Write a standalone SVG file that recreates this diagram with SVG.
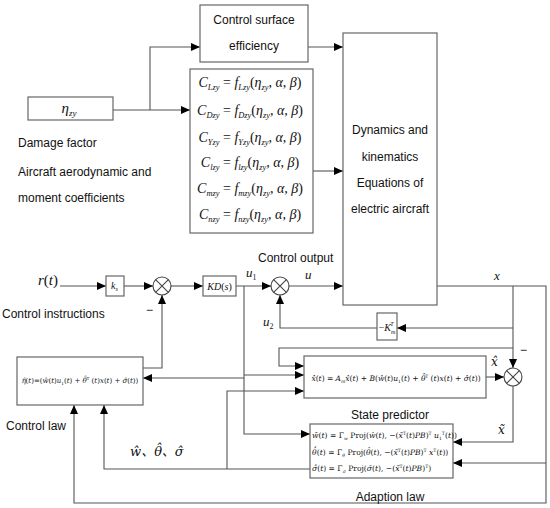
<svg xmlns="http://www.w3.org/2000/svg" width="550" height="508" viewBox="0 0 550 508">
<style>
.box{fill:#fff;stroke:#666;stroke-width:1.2}
.ln{fill:none;stroke:#555;stroke-width:1.1}
.lbl{font-family:"Liberation Sans",Arial,sans-serif;font-size:12px;font-style:normal;fill:#111}
.m{font-family:"Liberation Serif","Times New Roman",serif;font-style:italic;fill:#111}
.d{font-family:"DejaVu Serif",serif;font-style:italic;fill:#111}
.up{font-style:normal}
.sb{font-size:60%}
.cj{font-family:"DejaVu Serif","Noto Sans CJK SC",serif;font-style:italic;fill:#111}
</style>
<defs>
<marker id="ar" markerUnits="userSpaceOnUse" markerWidth="10" markerHeight="9" refX="9" refY="4" orient="auto">
<path d="M0,0 L9,4 L0,8 z" fill="#000"/>
</marker>
</defs>
<rect width="550" height="508" fill="#fff"/>

<g id="connectors" class="ln" marker-end="url(#ar)">
<path d="M113,110 H190"/>
<path d="M150,110 V47 H200"/>
<path d="M308,47 H343"/>
<path d="M313,171 H343"/>
<path d="M60,286 H106"/>
<path d="M124,286 H153"/>
<path d="M171,286 H203"/>
<path d="M236,286 H271"/>
<path d="M289,286 H343"/>
<path d="M143,368 H162 V295"/>
<path d="M244,286 V434 H310"/>
<path d="M244,378 H143"/>
<path d="M244,375 H304"/>
<path d="M437,286 H546 V503 H74 V405"/>
<path d="M513,286 V368"/>
<path d="M513,328 H397"/>
<path d="M377,328 H280 V295"/>
<path d="M513,348 H279 V366 H304"/>
<path d="M486,377 H504"/>
<path d="M513,386 V442 H453"/>
<path d="M546,463 H453"/>
<path d="M310,469 H104 V405"/>
<path d="M227,469 V391 H304"/>
</g>

<g id="damage">
<rect class="box" x="28" y="97" width="85" height="23"/>
<text class="m" x="69" y="113" font-size="15" text-anchor="middle">η<tspan class="sb" dy="3">zy</tspan></text>
<text class="lbl" x="18" y="147">Damage factor</text>
</g>

<g id="cse">
<rect class="box" x="200" y="5" width="108" height="57"/>
<text class="lbl" x="254" y="24" text-anchor="middle">Control surface</text>
<text class="lbl" x="254" y="50" text-anchor="middle">efficiency</text>
</g>

<g id="coeffs">
<rect class="box" x="190" y="69" width="123" height="164"/>
<g class="m" font-size="14" text-anchor="middle">
<text x="250" y="87">C<tspan class="sb" dy="3">Lzy</tspan><tspan dy="-3" class="up"> = </tspan>f<tspan class="sb" dy="3">Lzy</tspan><tspan dy="-3" class="up">(</tspan>η<tspan class="sb" dy="3">zy</tspan><tspan dy="-3">, α, β</tspan><tspan class="up">)</tspan></text>
<text x="250" y="115">C<tspan class="sb" dy="3">Dzy</tspan><tspan dy="-3" class="up"> = </tspan>f<tspan class="sb" dy="3">Dzy</tspan><tspan dy="-3" class="up">(</tspan>η<tspan class="sb" dy="3">zy</tspan><tspan dy="-3">, α, β</tspan><tspan class="up">)</tspan></text>
<text x="250" y="142">C<tspan class="sb" dy="3">Yzy</tspan><tspan dy="-3" class="up"> = </tspan>f<tspan class="sb" dy="3">Yzy</tspan><tspan dy="-3" class="up">(</tspan>η<tspan class="sb" dy="3">zy</tspan><tspan dy="-3">, α, β</tspan><tspan class="up">)</tspan></text>
<text x="250" y="167">C<tspan class="sb" dy="3">lzy</tspan><tspan dy="-3" class="up"> = </tspan>f<tspan class="sb" dy="3">lzy</tspan><tspan dy="-3" class="up">(</tspan>η<tspan class="sb" dy="3">zy</tspan><tspan dy="-3">, α, β</tspan><tspan class="up">)</tspan></text>
<text x="250" y="193">C<tspan class="sb" dy="3">mzy</tspan><tspan dy="-3" class="up"> = </tspan>f<tspan class="sb" dy="3">mzy</tspan><tspan dy="-3" class="up">(</tspan>η<tspan class="sb" dy="3">zy</tspan><tspan dy="-3">, α, β</tspan><tspan class="up">)</tspan></text>
<text x="250" y="219">C<tspan class="sb" dy="3">nzy</tspan><tspan dy="-3" class="up"> = </tspan>f<tspan class="sb" dy="3">nzy</tspan><tspan dy="-3" class="up">(</tspan>η<tspan class="sb" dy="3">zy</tspan><tspan dy="-3">, α, β</tspan><tspan class="up">)</tspan></text>
</g>
<text class="lbl" x="18" y="176">Aircraft aerodynamic and</text>
<text class="lbl" x="18" y="202">moment coefficients</text>
</g>

<g id="dynamics">
<rect class="box" x="343" y="33" width="94" height="272"/>
<text class="lbl" x="390" y="134" text-anchor="middle">Dynamics and</text>
<text class="lbl" x="390" y="161" text-anchor="middle">kinematics</text>
<text class="lbl" x="390" y="187" text-anchor="middle">Equations of</text>
<text class="lbl" x="390" y="213" text-anchor="middle">electric aircraft</text>
</g>

<g id="input">
<text class="m" x="38" y="285" font-size="15">r<tspan class="up">(</tspan>t<tspan class="up">)</tspan></text>
<text class="lbl" x="2" y="318">Control instructions</text>
</g>

<g id="ks">
<rect class="box" x="106" y="276" width="18" height="20"/>
<text class="m" x="111" y="289" font-size="10">k<tspan class="sb" dy="2">s</tspan></text>
</g>

<g id="sum1">
<circle cx="162" cy="286" r="9" fill="#fff" stroke="#444" stroke-width="1.1"/>
<path d="M155.6,279.6 L168.4,292.4 M168.4,279.6 L155.6,292.4" stroke="#444" stroke-width="1.1"/>
<text class="lbl" x="146" y="314">−</text>
</g>

<g id="kd">
<rect class="box" x="203" y="276" width="33" height="20"/>
<text class="m" x="219.5" y="290" font-size="10" text-anchor="middle">KD<tspan class="up">(</tspan>s<tspan class="up">)</tspan></text>
</g>

<g id="sum2">
<circle cx="280" cy="286" r="9" fill="#fff" stroke="#444" stroke-width="1.1"/>
<path d="M273.6,279.6 L286.4,292.4 M286.4,279.6 L273.6,292.4" stroke="#444" stroke-width="1.1"/>
</g>

<g id="signals">
<text class="lbl" x="258" y="262">Control output</text>
<text class="m" font-size="13" x="246" y="277">u<tspan class="sb up" dy="3">1</tspan></text>
<text class="m" font-size="13" x="305" y="279">u</text>
<text class="m" font-size="13" x="263" y="326">u<tspan class="sb up" dy="3">2</tspan></text>
<text class="m" font-size="13" x="494" y="280">x</text>
<text class="d" font-size="12" x="491" y="366">x&#x302;</text>
<text class="d" font-size="12" x="498" y="434">x&#x303;</text>
<text class="lbl" x="520" y="354">−</text>
</g>

<g id="km">
<rect class="box" x="377" y="313" width="20" height="27"/>
<text class="m" x="387" y="331" font-size="10" text-anchor="middle"><tspan class="up">−</tspan>K<tspan class="sb" dy="3">m</tspan><tspan class="sb" dx="-5" dy="-8">T</tspan></text>
</g>

<g id="controllaw">
<rect class="box" x="17" y="357" width="126" height="48"/>
<text class="d" x="80" y="383" font-size="7" text-anchor="middle">η<tspan dx="-3.8" dy="-0.5">ˆ</tspan><tspan dy="0.5" class="up">(</tspan>t<tspan class="up">)=(</tspan>ŵ<tspan class="up">(</tspan>t<tspan class="up">)</tspan>u<tspan class="sb up" dy="2">1</tspan><tspan dy="-2" class="up">(</tspan>t<tspan class="up">) + </tspan>θ<tspan dx="-3.7" dy="-2">ˆ</tspan><tspan class="sb up" dy="-1">T</tspan><tspan dy="3" class="up"> (</tspan>t<tspan class="up">)</tspan>x<tspan class="up">(</tspan>t<tspan class="up">) + </tspan>σ&#x302;<tspan class="up">(</tspan>t<tspan class="up">))</tspan></text>
<text class="lbl" x="6" y="430">Control law</text>
<text class="cj" x="130" y="456" font-size="13">ŵ、θ<tspan dx="-6.8" dy="-3.5">ˆ</tspan><tspan dy="3.5">、σ&#x302;</tspan></text>
</g>

<g id="sum3">
<circle cx="513" cy="377" r="9" fill="#fff" stroke="#444" stroke-width="1.1"/>
<path d="M506.6,370.6 L519.4,383.4 M519.4,370.6 L506.6,383.4" stroke="#444" stroke-width="1.1"/>
</g>

<g id="predictor">
<rect class="box" x="304" y="356" width="182" height="42"/>
<text class="d" x="396" y="381" font-size="7.5" text-anchor="middle">x&#x302;&#x307;<tspan class="up">(</tspan>t<tspan class="up">) = </tspan>A<tspan class="sb" dy="2">m</tspan><tspan dy="-2">x&#x302;</tspan><tspan class="up">(</tspan>t<tspan class="up">) + </tspan>B<tspan class="up">(</tspan>ŵ<tspan class="up">(</tspan>t<tspan class="up">)</tspan>u<tspan class="sb up" dy="2">1</tspan><tspan dy="-2" class="up">(</tspan>t<tspan class="up">) + </tspan>θ<tspan dx="-4" dy="-2">ˆ</tspan><tspan class="sb up" dy="-1">T</tspan><tspan dy="3" class="up"> (</tspan>t<tspan class="up">)</tspan>x<tspan class="up">(</tspan>t<tspan class="up">) + </tspan>σ&#x302;<tspan class="up">(</tspan>t<tspan class="up">))</tspan></text>
<text class="lbl" x="390" y="419" text-anchor="middle">State predictor</text>
</g>

<g id="adaptation">
<rect class="box" x="310" y="424" width="143" height="54"/>
<g class="d" font-size="7.6">
<text x="312" y="438">ŵ&#x307;<tspan class="up">(</tspan>t<tspan class="up">) = Γ</tspan><tspan class="sb" dy="2">w</tspan><tspan dy="-2" class="up"> Proj(</tspan>ŵ<tspan class="up">(</tspan>t<tspan class="up">), −(</tspan>x&#x303;<tspan class="sb up" dy="-3">T</tspan><tspan dy="3" class="up">(</tspan>t<tspan class="up">)</tspan>PB<tspan class="up">)</tspan><tspan class="sb up" dy="-3">T</tspan><tspan dy="3"> u</tspan><tspan class="sb up" dy="2">1</tspan><tspan class="sb up" dy="-5">T</tspan><tspan dy="3" class="up">(</tspan>t<tspan class="up">))</tspan></text>
<text x="312" y="455">θ<tspan dx="-4" dy="-2">ˆ</tspan><tspan dx="-3.4" dy="-1.5">˙</tspan><tspan dy="3.5" class="up">(</tspan>t<tspan class="up">) = Γ</tspan><tspan class="sb" dy="2">θ</tspan><tspan dy="-2" class="up"> Proj(</tspan>θ<tspan dx="-4" dy="-2">ˆ</tspan><tspan dy="2" class="up">(</tspan>t<tspan class="up">), −(</tspan>x&#x303;<tspan class="sb up" dy="-3">T</tspan><tspan dy="3" class="up">(</tspan>t<tspan class="up">)</tspan>PB<tspan class="up">)</tspan><tspan class="sb up" dy="-3">T</tspan><tspan dy="3"> x</tspan><tspan class="sb up" dy="-3">T</tspan><tspan dy="3" class="up">(</tspan>t<tspan class="up">))</tspan></text>
<text x="312" y="471">σ&#x302;&#x307;<tspan class="up">(</tspan>t<tspan class="up">) = Γ</tspan><tspan class="sb" dy="2">σ</tspan><tspan dy="-2" class="up"> Proj(</tspan>σ&#x302;<tspan class="up">(</tspan>t<tspan class="up">), −(</tspan>x&#x303;<tspan class="sb up" dy="-3">T</tspan><tspan dy="3" class="up">(</tspan>t<tspan class="up">)</tspan>PB<tspan class="up">)</tspan><tspan class="sb up" dy="-3">T</tspan><tspan dy="3" class="up">)</tspan></text>
</g>
<text class="lbl" x="390" y="501" text-anchor="middle">Adaption law</text>
</g>
</svg>
